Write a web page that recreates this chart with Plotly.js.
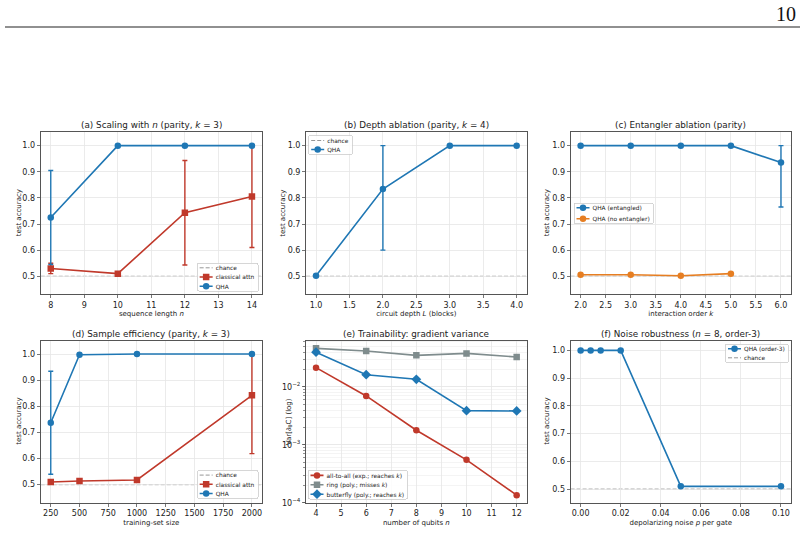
<!DOCTYPE html>
<html>
<head>
<meta charset="utf-8">
<script src="https://cdn.plot.ly/plotly-3.0.1.min.js"></script>
<style>
  html, body { margin: 0; padding: 0; background: #fff; }
  #fig { width: 804px; height: 533px; }
</style>
</head>
<body>
<div id="fig"></div>
<script>
// ---- data ----
const chance = 0.5;

// (a) scaling with sequence length
const seqLen = [8, 10, 12, 14];
const qhaSeq = [0.725, 1.0, 1.0, 1.0];
const qhaSeqErr = [0.18, 0, 0, 0];
const clsSeq = [0.53, 0.51, 0.743, 0.805];
const clsSeqErr = [0.02, 0, 0.2, 0.195];

// (b) depth ablation
const depthL = [1, 2, 3, 4];
const qhaDepth = [0.502, 0.834, 1.0, 1.0];
const qhaDepthErrUp = [0, 0.166, 0, 0];
const qhaDepthErrDn = [0, 0.234, 0, 0];

// (c) entangler ablation
const orderK = [2, 3, 4, 5, 6];
const qhaEnt = [1.0, 1.0, 1.0, 1.0, 0.935];
const qhaEntErrUp = [0, 0, 0, 0, 0.065];
const qhaEntErrDn = [0, 0, 0, 0, 0.17];
const orderKNoEnt = [2, 3, 4, 5];
const qhaNoEnt = [0.506, 0.506, 0.502, 0.51];

// (d) sample efficiency
const trainSize = [250, 500, 1000, 2000];
const qhaTrain = [0.737, 0.997, 1.0, 1.0];
const qhaTrainErr = [0.197, 0.003, 0, 0];
const clsTrain = [0.51, 0.514, 0.518, 0.842];
const clsTrainErrUp = [0, 0, 0, 0.158];
const clsTrainErrDn = [0, 0, 0, 0.223];

// (e) gradient variance
const nQubits = [4, 6, 8, 10, 12];
const varAllToAll = [0.0216, 0.0070, 0.00179, 0.00055, 0.000135];
const varRing = [0.0465, 0.0418, 0.0352, 0.0381, 0.0329];
const varButterfly = [0.040, 0.0163, 0.0136, 0.0039, 0.00385];

// (f) noise robustness
const noiseP = [0.0, 0.005, 0.01, 0.02, 0.05, 0.10];
const qhaNoise = [1.0, 1.0, 1.0, 1.0, 0.51, 0.51];

// ---- styling ----
const BLUE = '#1f77b4', RED = '#c0392b', ORANGE = '#e67e22', GRAY = '#7f8c8d';
const W = 804, H = 533;
const fx = v => v / W;
const fy = v => 1 - v / H;
const FONT = 'DejaVu Sans, sans-serif';
const TXT = '#222';

function line(color, symbol, legend, name, x, y, xa, ya, errUp, errDn) {
  const t = {
    type: 'scatter', mode: 'lines+markers', name: name, x: x, y: y,
    xaxis: xa, yaxis: ya, legend: legend, legendrank: 1000,
    line: { color: color, width: 1.6 },
    marker: { color: color, symbol: symbol, size: symbol === 'diamond' ? 7.5 : 6.5 }
  };
  if (errUp) {
    t.error_y = { type: 'data', symmetric: !errDn, array: errUp, color: color, thickness: 1.4, width: 2.5 };
    if (errDn) t.error_y.arrayminus = errDn;
  }
  return t;
}

const traces = [
  line(RED, 'square', 'legend', 'classical attn', seqLen, clsSeq, 'x', 'y', clsSeqErr),
  line(BLUE, 'circle', 'legend', 'QHA', seqLen, qhaSeq, 'x', 'y', qhaSeqErr),
  line(BLUE, 'circle', 'legend2', 'QHA', depthL, qhaDepth, 'x2', 'y2', qhaDepthErrUp, qhaDepthErrDn),
  line(BLUE, 'circle', 'legend3', 'QHA (entangled)', orderK, qhaEnt, 'x3', 'y3', qhaEntErrUp, qhaEntErrDn),
  line(ORANGE, 'circle', 'legend3', 'QHA (no entangler)', orderKNoEnt, qhaNoEnt, 'x3', 'y3'),
  line(RED, 'square', 'legend4', 'classical attn', trainSize, clsTrain, 'x4', 'y4', clsTrainErrUp, clsTrainErrDn),
  line(BLUE, 'circle', 'legend4', 'QHA', trainSize, qhaTrain, 'x4', 'y4', qhaTrainErr),
  line(RED, 'circle', 'legend5', 'all-to-all (exp.; reaches <i>k</i>)', nQubits, varAllToAll, 'x5', 'y5'),
  line(GRAY, 'square', 'legend5', 'ring (poly.; misses <i>k</i>)', nQubits, varRing, 'x5', 'y5'),
  line(BLUE, 'diamond', 'legend5', 'butterfly (poly.; reaches <i>k</i>)', nQubits, varButterfly, 'x5', 'y5'),
  line(BLUE, 'circle', 'legend6', 'QHA (order-3)', noiseP, qhaNoise, 'x6', 'y6')
];
traces[traces.length - 1].legendrank = 1;

// subplot frames (pixel boxes)
const colX = [[40.7, 262], [306, 526.7], [570.6, 791]];
const rowY = [[132.3, 294.3], [340.7, 502.7]];

function ax(extra) {
  return Object.assign({
    showline: true, mirror: true, linecolor: '#555', linewidth: 1,
    ticks: 'outside', ticklen: 3, tickwidth: 0.8, tickcolor: '#555',
    showgrid: true, gridcolor: '#e6e6e6', gridwidth: 0.8, zeroline: false,
    tickfont: { family: FONT, size: 8, color: TXT }, automargin: false
  }, extra);
}
function xt(text) { return { text: text, font: { family: FONT, size: 7, color: TXT }, standoff: 2 }; }

const accTicks = { tickvals: [0.5, 0.6, 0.7, 0.8, 0.9, 1.0], tickformat: '.1f' };

const layout = {
  width: W, height: H, margin: { l: 0, r: 0, t: 0, b: 0 },
  paper_bgcolor: '#fff', plot_bgcolor: '#fff',
  font: { family: FONT, color: TXT },
  showlegend: true,
  xaxis: ax({ domain: [fx(colX[0][0]), fx(colX[0][1])], anchor: 'y', range: [7.7, 14.3], dtick: 1, title: xt('sequence length <i>n</i>') }),
  yaxis: ax(Object.assign({ domain: [fy(rowY[0][1]), fy(rowY[0][0])], anchor: 'x', range: [0.431, 1.051] }, accTicks)),
  xaxis2: ax({ domain: [fx(colX[1][0]), fx(colX[1][1])], anchor: 'y2', range: [0.85, 4.15], dtick: 0.5, tickformat: '.1f', title: xt('circuit depth <i>L</i> (blocks)') }),
  yaxis2: ax(Object.assign({ domain: [fy(rowY[0][1]), fy(rowY[0][0])], anchor: 'x2', range: [0.431, 1.051] }, accTicks)),
  xaxis3: ax({ domain: [fx(colX[2][0]), fx(colX[2][1])], anchor: 'y3', range: [1.8, 6.2], dtick: 0.5, tickformat: '.1f', title: xt('interaction order <i>k</i>') }),
  yaxis3: ax(Object.assign({ domain: [fy(rowY[0][1]), fy(rowY[0][0])], anchor: 'x3', range: [0.431, 1.051] }, accTicks)),
  xaxis4: ax({ domain: [fx(colX[0][0]), fx(colX[0][1])], anchor: 'y4', range: [162.5, 2087.5], tick0: 250, dtick: 250, title: xt('training-set size') }),
  yaxis4: ax(Object.assign({ domain: [fy(rowY[1][1]), fy(rowY[1][0])], anchor: 'x4', range: [0.431, 1.051] }, accTicks)),
  xaxis5: ax({ domain: [fx(colX[1][0]), fx(colX[1][1])], anchor: 'y5', range: [3.6, 12.4], dtick: 1, title: xt('number of qubits <i>n</i>') }),
  yaxis5: ax({ domain: [fy(rowY[1][1]), fy(rowY[1][0])], anchor: 'x5', type: 'log', range: [-4, -1.2],
    tickvals: [1e-4, 1e-3, 1e-2], ticktext: ['10<sup>−4</sup>', '10<sup>−3</sup>', '10<sup>−2</sup>'],
    minor: { showgrid: true, gridcolor: '#ededed', gridwidth: 0.6, ticks: 'outside', ticklen: 2, tickcolor: '#777', dtick: 'D1' } }),
  xaxis6: ax({ domain: [fx(colX[2][0]), fx(colX[2][1])], anchor: 'y6', range: [-0.005, 0.105], dtick: 0.02, tickformat: '.2f', title: xt('depolarizing noise <i>p</i> per gate') }),
  yaxis6: ax(Object.assign({ domain: [fy(rowY[1][1]), fy(rowY[1][0])], anchor: 'x6', range: [0.451, 1.035] }, accTicks))
};

const legBase = {
  bgcolor: 'rgba(255,255,255,0.85)', bordercolor: '#cccccc', borderwidth: 0.8,
  font: { family: FONT, size: 5.9, color: TXT }, tracegroupgap: 0, itemwidth: 30
};
// [id, anchor px x, anchor px y, xanchor, yanchor, row spacing px]
const legendSpots = [
  ['legend', 258, 291, 'right', 'bottom', 9.2],
  ['legend2', 308.7, 135.7, 'left', 'top', 9],
  ['legend3', 574, 203, 'left', 'top', 11],
  ['legend4', 258, 498.3, 'right', 'bottom', 9.2],
  ['legend5', 308, 499, 'left', 'bottom', 9.4],
  ['legend6', 788.3, 344, 'right', 'top', 9]
];
legendSpots.forEach(([id, px, py, xa, ya]) => {
  layout[id] = Object.assign({}, legBase, { x: fx(px), xanchor: xa, y: fy(py), yanchor: ya });
});

// chance-level reference lines (with legend entries where the panel lists them)
const chancePanels = [
  ['x', 'y', 'legend', true],
  ['x2', 'y2', 'legend2', true],
  ['x3', 'y3', 'legend3', false],
  ['x4', 'y4', 'legend4', true],
  ['x6', 'y6', 'legend6', true]
];
layout.shapes = chancePanels.map(([xa, ya, lg, show]) => ({
  type: 'line', xref: xa + ' domain', yref: ya, x0: 0, x1: 1, y0: chance, y1: chance,
  line: { color: '#8a8a8a', width: 0.9, dash: '4px,2px' }, layer: 'below',
  name: 'chance', showlegend: show, legend: lg, legendrank: lg === 'legend6' ? 2000 : 1
}));
// page rule
layout.shapes.push({ type: 'line', xref: 'paper', yref: 'paper', x0: fx(5), x1: fx(800), y0: fy(27), y1: fy(27), line: { color: '#222', width: 1.2 } });

const titles = [
  ['(a) Scaling with <i>n</i> (parity, <i>k</i> = 3)', 0, 0],
  ['(b) Depth ablation (parity, <i>k</i> = 4)', 1, 0],
  ['(c) Entangler ablation (parity)', 2, 0],
  ['(d) Sample efficiency (parity, <i>k</i> = 3)', 0, 1],
  ['(e) Trainability: gradient variance', 1, 1],
  ['(f) Noise robustness (<i>n</i> = 8, order-3)', 2, 1]
];
layout.annotations = titles.map(([t, c, r]) => ({
  text: t, xref: 'paper', yref: 'paper', showarrow: false,
  x: fx((colX[c][0] + colX[c][1]) / 2), xanchor: 'center',
  y: fy((r === 0 ? 125.5 : 334)), yanchor: 'middle',
  font: { family: FONT, size: 8.8, color: TXT }
}));

// y-axis titles
const yTitles = [
  ['test accuracy', 19, 0],
  ['test accuracy', 283.5, 0],
  ['test accuracy', 547, 0],
  ['test accuracy', 19, 1],
  ['Var[∂<sub>θ</sub>C] (log)', 288.5, 1],
  ['test accuracy', 547, 1]
];
yTitles.forEach(([t, px, r]) => {
  layout.annotations.push({
    text: t, xref: 'paper', yref: 'paper', showarrow: false, textangle: -90,
    x: fx(px), xanchor: 'center', y: fy((rowY[r][0] + rowY[r][1]) / 2), yanchor: 'middle',
    font: { family: FONT, size: 7, color: TXT }
  });
});

// page number
layout.annotations.push({
  text: '10', xref: 'paper', yref: 'paper', showarrow: false,
  x: fx(798), xanchor: 'right', y: fy(13.5), yanchor: 'middle',
  font: { family: 'Liberation Serif, Times New Roman, serif', size: 20, color: '#111' }
});

// Tighten legend boxes: shorter line samples and matplotlib-like row spacing.
const LINE_START = 2, LINE_LEN = 13, TEXT_X = 18, PAD = 4.8;
function compactLegends(gd) {
  legendSpots.forEach(([id, ax0, ay0, xa, ya, sp]) => {
    const g = gd.querySelector('.infolayer g.' + id);
    if (!g) return;
    const bg = g.querySelector('rect.bg');
    const items = Array.from(g.querySelectorAll('g.traces'))
      .map(el => ({ el, top: el.getBoundingClientRect().top }))
      .sort((a, b) => a.top - b.top)
      .map(o => o.el);
    g.querySelectorAll('g.groups').forEach(gr => gr.setAttribute('transform', 'translate(0,0)'));
    let maxText = 0;
    items.forEach((el, i) => {
      el.setAttribute('transform', `translate(0.5,${PAD + i * sp})`);
      el.querySelectorAll('.legendlines path, path.js-line').forEach(p => {
        p.setAttribute('d', `M${LINE_START},0h${LINE_LEN}`);
      });
      el.querySelectorAll('.legendpoints path.scatterpts').forEach(p => {
        p.setAttribute('transform', `translate(${LINE_START + LINE_LEN / 2},0)`);
      });
      const txt = el.querySelector('text.' + id + 'text') || el.querySelector('text');
      if (txt) {
        txt.setAttribute('x', TEXT_X);
        txt.querySelectorAll('tspan[x]').forEach(ts => ts.setAttribute('x', TEXT_X));
        maxText = Math.max(maxText, txt.getBBox().width);
      }
    });
    const w = maxText + TEXT_X + 4;
    const h = 2 * PAD + (items.length - 1) * sp;
    if (bg) {
      bg.setAttribute('x', 0); bg.setAttribute('y', 0);
      bg.setAttribute('width', w); bg.setAttribute('height', h);
      bg.setAttribute('rx', 1.5); bg.setAttribute('ry', 1.5);
    }
    const left = xa === 'right' ? ax0 - w : ax0;
    const top = ya === 'bottom' ? ay0 - h : ay0;
    g.setAttribute('transform', `translate(${left},${top})`);
  });
}

const gd = document.getElementById('fig');
Plotly.newPlot(gd, traces, layout, { staticPlot: true, displayModeBar: false }).then(compactLegends);
</script>
</body>
</html>
